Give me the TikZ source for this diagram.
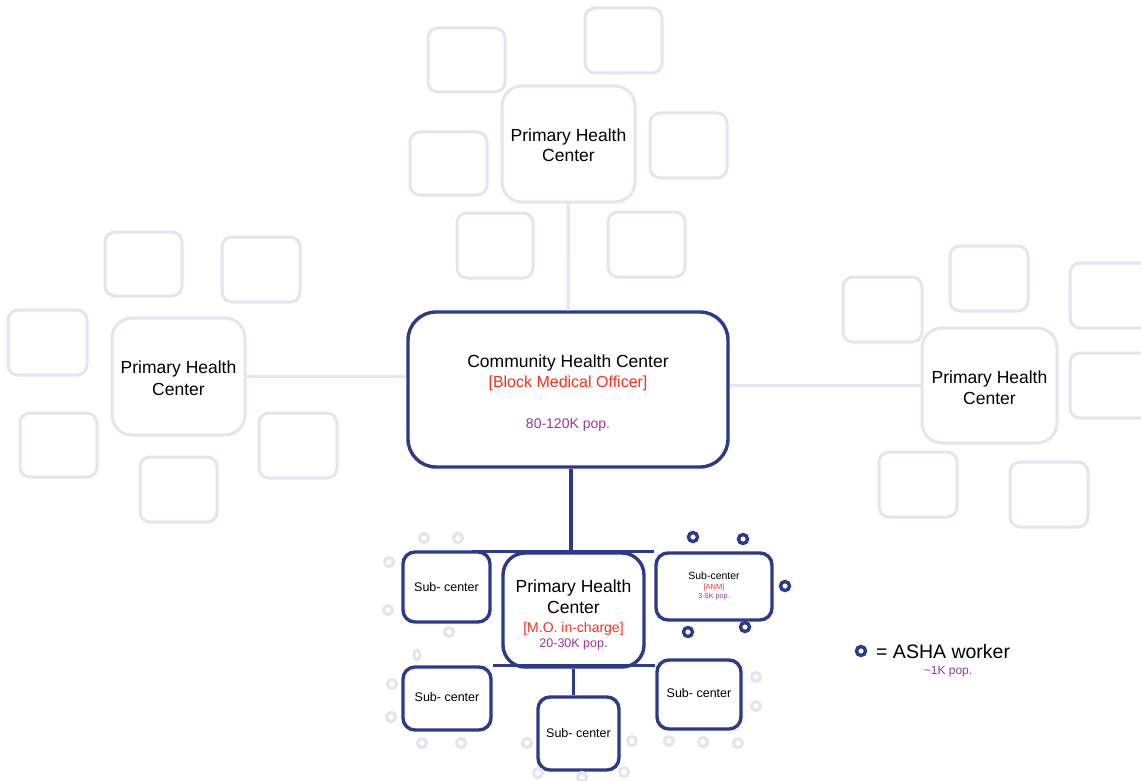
\documentclass[tikz,border=0pt]{standalone}
\usepackage{fontspec}
\setmainfont{Liberation Sans}
\usetikzlibrary{calc,shapes.geometric}
\definecolor{navy}{HTML}{2D3A8C}
\definecolor{faint}{HTML}{E3E5EF}
\definecolor{redtxt}{HTML}{F5321E}
\definecolor{purp}{HTML}{9B35A0}
\newcommand{\fs}[1]{\fontsize{#1}{#1}\selectfont}
\tikzset{
  chcbox/.style={draw=navy, line width=3.4pt, rounded corners=28pt, fill=white, minimum width=320pt, minimum height=155pt, inner sep=0pt},
  phcbox/.style={draw=navy, line width=3.4pt, rounded corners=20pt, fill=white, inner sep=0pt},
  fadephc/.style={draw=faint, line width=3pt, rounded corners=20pt, fill=white, minimum width=133pt, minimum height=116pt, inner sep=0pt},
  scbox/.style={draw=navy, line width=3.4pt, rounded corners=12pt, fill=white, inner sep=0pt},
  fbox/.style={draw=faint, line width=3pt, rounded corners=10pt},
  navyline/.style={draw=navy, line width=3.2pt},
  faintline/.style={draw=faint, line width=3pt},
  asha/.style={circle, draw=navy, line width=3.4pt, minimum size=9pt, inner sep=0pt},
  fasha/.style={circle, draw=faint, line width=3.2pt, minimum size=9pt, inner sep=0pt},
  txt/.style={anchor=base, inner sep=0pt},
}
\begin{document}
\begin{tikzpicture}[x=1pt,y=-1pt]
\useasboundingbox (0,0) rectangle (1141,781);
\clip (0,0) rectangle (1141,781);
\fill[white] (0,0) rectangle (1141,781);

% faded satellite boxes
\foreach \xa/\ya/\xb/\yb in {428/28/505/92, 585/8/662/73, 410/132/487/195, 650/113/727/178, 457/213/533/278, 608/212/685/277,
  105/232/182/296, 222/237/300/302, 8/310/87/375, 20/413/97/477, 140/457/217/522, 259/413/337/478,
  843/277/922/342, 950/246/1028/311, 1070/263/1150/328, 1070/353/1150/418, 879/452/957/517, 1010/462/1088/527}
  \draw[fbox] (\xa,\ya) rectangle (\xb,\yb);

% faded PHCs
\node[fadephc] (tphc) at (568.5,144) {};
\node[txt] (tphc1) at (568.5,141.3) {\fs{17.5}Primary Health};
\node[txt] (tphc2) at (568.5,162) {\fs{17.5}Center};
\node[fadephc, minimum height=117pt] (lphc) at (178.5,376.5) {};
\node[txt] (lphc1) at (178.5,373.3) {\fs{17.5}Primary Health};
\node[txt] (lphc2) at (178.5,395.3) {\fs{17.5}Center};
\node[fadephc, minimum width=135pt, minimum height=115pt] (rphc) at (989.5,385.5) {};
\node[txt] (rphc1) at (989.5,383.3) {\fs{17.5}Primary Health};
\node[txt] (rphc2) at (989.5,404.3) {\fs{17.5}Center};

% CHC
\node[chcbox] (chc) at (568,389.5) {};
\node[txt] (chc1) at (568,367.3) {\fs{17.5}Community Health Center};
\node[txt, text=redtxt] (chc2) at (568,387.8) {\fs{16}[Block Medical Officer]};
\node[txt, text=purp] (chc3) at (568,428) {\fs{14}80-120K pop.};

\draw[faintline] (tphc.south) -- (chc.north);
\draw[faintline] (lphc.east) -- (lphc.east -| chc.west);
\draw[faintline] (rphc.west) -- (rphc.west -| chc.east);

% bottom cluster
\node[phcbox, minimum width=141pt, minimum height=114pt, rounded corners=22pt] (bphc) at (573.5,610) {};
\node[txt] (bphc1) at (573.5,592.3) {\fs{17.5}Primary Health};
\node[txt] (bphc2) at (573.5,613.3) {\fs{17.5}Center};
\node[txt, text=redtxt] (bphc3) at (573.5,632) {\fs{14}[M.O. in-charge]};
\node[txt, text=purp] (bphc4) at (573.5,647.5) {\fs{12.5}20-30K pop.};

\node[scbox, minimum width=87pt, minimum height=70pt] (sc1) at (446.5,587) {};
\node[txt] (sc1t) at (446.5,591.5) {\fs{12.5}Sub- center};
\node[scbox, minimum width=116pt, minimum height=67pt] (sc2) at (714,586.5) {};
\node[txt] (sc2a) at (714,579.8) {\fs{10.5}Sub-center};
\node[txt, text=redtxt] (sc2b) at (714,589.7) {\fs{7.5}[ANM]};
\node[txt, text=purp] (sc2c) at (714,598.6) {\fs{7.2}3-5K pop.};
\node[scbox, minimum width=88pt, minimum height=63pt] (sc3) at (447,698.5) {};
\node[txt] (sc3t) at (447,701.5) {\fs{12.5}Sub- center};
\node[scbox, minimum width=81pt, minimum height=73pt] (sc4) at (578.5,733.5) {};
\node[txt] (sc4t) at (578.5,737.5) {\fs{12.5}Sub- center};
\node[scbox, minimum width=84pt, minimum height=69pt] (sc5) at (699,694.5) {};
\node[txt] (sc5t) at (699,697.5) {\fs{12.5}Sub- center};

\coordinate (topl) at ($(sc1.north east)+(-20,1)$);
\coordinate (vx) at (571,0);
\draw[navyline] (chc.south -| vx) -- (bphc.north -| vx);
\draw[navyline] (topl) -- (topl -| sc2.west);
\draw[navyline] (sc3.north east) -- (sc3.north east -| sc5.west);
\draw[navyline] (bphc.south) -- (bphc.south |- sc4.north);

% ASHA circles (dark)
\foreach \x/\y [count=\i] in {693/537, 743/539, 785/586, 688/632, 745/627}
  \node[asha] (a\i) at (\x,\y) {};
% faded circles
\foreach \x/\y [count=\i] in {424/538, 458/538, 389/562, 388/610, 449/632, 392/684, 391/717, 422/743, 461/743,
  527/743, 632/741, 669/741, 703/742, 738/743, 756/677, 756/706, 538/773, 582/777, 624/772}
  \node[fasha] (f\i) at (\x,\y) {};
\node[ellipse, draw=faint, line width=3pt, minimum width=6pt, minimum height=10pt, inner sep=0pt] (f0) at (417,655) {};

% legend
\node[asha] (leg) at (861,651) {};
\node[anchor=base west, inner sep=0pt] (legt) at (876,658) {\fs{19.5}= ASHA worker};
\node[txt, text=purp] (legp) at (948,674.3) {\fs{12}\textasciitilde 1K pop.};
\end{tikzpicture}
\end{document}
